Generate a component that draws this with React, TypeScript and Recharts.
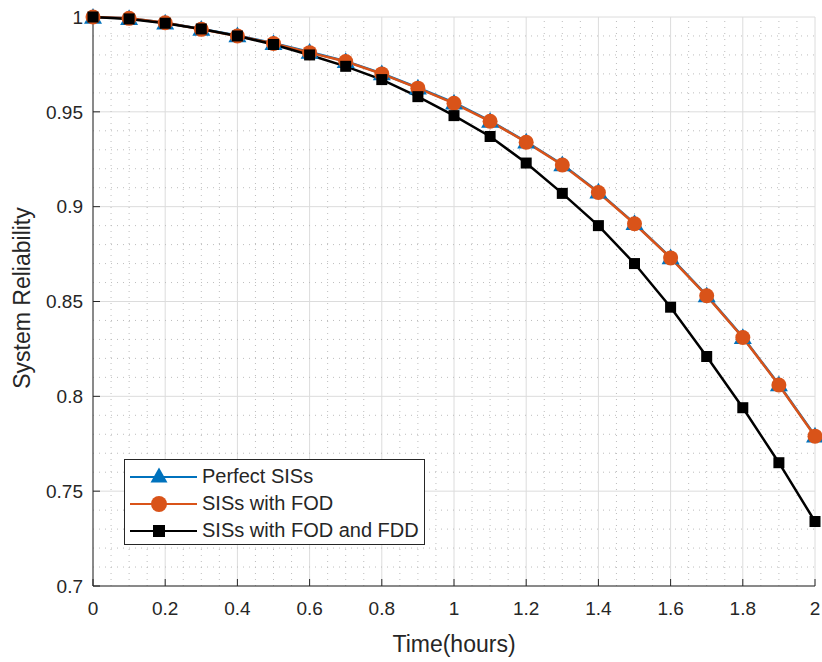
import React from 'react';
import {
  CartesianGrid, Line, LineChart, ReferenceLine, XAxis, YAxis,
} from 'recharts';

const time = [0, 0.1, 0.2, 0.3, 0.4, 0.5, 0.6, 0.7, 0.8, 0.9, 1, 1.1, 1.2, 1.3, 1.4, 1.5, 1.6, 1.7, 1.8, 1.9, 2];
const perfectSIS = [1.0, 0.9993, 0.997, 0.9937, 0.9902, 0.9862, 0.9815, 0.9767, 0.9702, 0.9627, 0.9548, 0.9452, 0.9342, 0.9222, 0.9078, 0.8912, 0.8732, 0.8532, 0.8312, 0.8062, 0.7792];
const withFOD = [1.0, 0.9993, 0.997, 0.9935, 0.99, 0.986, 0.9812, 0.9765, 0.97, 0.9625, 0.9545, 0.945, 0.934, 0.922, 0.9075, 0.891, 0.873, 0.853, 0.831, 0.806, 0.779];
const withFODFDD = [1.0, 0.999, 0.9967, 0.9937, 0.99, 0.9855, 0.98, 0.974, 0.967, 0.958, 0.948, 0.937, 0.923, 0.907, 0.89, 0.87, 0.847, 0.821, 0.794, 0.765, 0.734];

const xTicks = [0, 0.2, 0.4, 0.6, 0.8, 1, 1.2, 1.4, 1.6, 1.8, 2];
const yTicks = [0.7, 0.75, 0.8, 0.85, 0.9, 0.95, 1];

const data = time.map((t, i) => ({
  t, perfect: perfectSIS[i], fod: withFOD[i], fdd: withFODFDD[i],
}));

// minor grid: 0.05 on x, 0.01 on y (skip the major ones)
const xMinor: number[] = [];
for (let i = 1; i < 40; i++) if (i % 4 !== 0) xMinor.push(i * 0.05);
const yMinor: number[] = [];
for (let i = 71; i < 100; i++) if (i % 5 !== 0) yMinor.push(i / 100);

const FONT = '"Liberation Sans", Arial, Helvetica, sans-serif';
const INK = '#262626';
const BLUE = '#0072BD';
const ORANGE = '#D95319';
const TICK = { fontSize: 19, fill: INK, fontFamily: FONT };

const Triangle = ({ cx, cy, s = 9 }: any) => (
  <polygon points={`${cx},${cy - s} ${cx - s},${cy + s * 0.75} ${cx + s},${cy + s * 0.75}`} fill={BLUE} />
);
const Circle = ({ cx, cy, r = 7.5 }: any) => <circle cx={cx} cy={cy} r={r} fill={ORANGE} />;
const Square = ({ cx, cy, s = 5.5 }: any) => <rect x={cx - s} y={cy - s} width={s * 2} height={s * 2} fill="#000" />;

const empty = () => <g />;

function LegendBox() {
  const rows = [
    { name: 'Perfect SISs', color: BLUE, mark: <Triangle cx={34} cy={11} s={8.5} /> },
    { name: 'SISs with FOD', color: ORANGE, mark: <Circle cx={34} cy={12} r={8} /> },
    { name: 'SISs with FOD and FDD', color: '#000', mark: <Square cx={34} cy={12} s={6} /> },
  ];
  return (
    <div style={{
      position: 'absolute', left: 124, top: 459, width: 301, height: 86,
      border: `1px solid ${INK}`, background: '#fff', fontFamily: FONT,
      fontSize: 20, color: INK, boxSizing: 'border-box', paddingTop: 3,
    }}>
      {rows.map((r) => (
        <div key={r.name} style={{ display: 'flex', alignItems: 'center', height: 27 }}>
          <svg width={77} height={24} style={{ flex: 'none' }}>
            <line x1={5} x2={72} y1={12} y2={12} stroke={r.color} strokeWidth={2} />
            {r.mark}
          </svg>
          <span style={{ whiteSpace: 'nowrap' }}>{r.name}</span>
        </div>
      ))}
    </div>
  );
}

export default function App() {
  return (
    <div style={{ position: 'absolute', left: 0, top: 0, width: 822, height: 662, background: '#fff' }}>
      <LineChart width={822} height={662} data={data} margin={{ top: 17, right: 7, bottom: 0, left: 0 }}>
        <CartesianGrid stroke="#dcdcdc" strokeWidth={1} />
        {xMinor.map((v) => (
          <ReferenceLine key={'x' + v} x={v} stroke="#bdbdbd" strokeDasharray="1 5" />
        ))}
        {yMinor.map((v) => (
          <ReferenceLine key={'y' + v} y={v} stroke="#bdbdbd" strokeDasharray="1 5" />
        ))}
        <XAxis
          dataKey="t" type="number" domain={[0, 2]} ticks={xTicks} height={76}
          tick={TICK} tickSize={-7} tickMargin={23} stroke={INK} tickLine={{ stroke: INK }}
          label={() => (
            <text x={454} y={652} textAnchor="middle" fontSize={23} fill={INK} fontFamily={FONT}>Time(hours)</text>
          )}
        />
        <XAxis xAxisId="top" orientation="top" type="number" domain={[0, 2]} ticks={xTicks} height={0}
          tick={empty} tickSize={-7} stroke={INK} />
        <YAxis
          type="number" domain={[0.7, 1]} ticks={yTicks} width={93}
          tick={TICK} tickSize={-7} tickMargin={17} stroke={INK}
          label={() => (
            <text x={22} y={298} transform="rotate(-90 22 298)" textAnchor="middle" dominantBaseline="central"
              fontSize={23} fill={INK} fontFamily={FONT}>System Reliability</text>
          )}
        />
        <YAxis yAxisId="right" orientation="right" type="number" domain={[0.7, 1]} ticks={yTicks} width={0}
          tick={empty} tickSize={-7} stroke={INK} />
        <Line dataKey="perfect" stroke={BLUE} strokeWidth={2.5} isAnimationActive={false}
          dot={(p: any) => <Triangle key={p.index} cx={p.cx} cy={p.cy} />} />
        <Line dataKey="fod" stroke={ORANGE} strokeWidth={2.5} isAnimationActive={false}
          dot={(p: any) => <Circle key={p.index} cx={p.cx} cy={p.cy} />} />
        <Line dataKey="fdd" stroke="#000" strokeWidth={2.5} isAnimationActive={false}
          dot={(p: any) => <Square key={p.index} cx={p.cx} cy={p.cy} />} />
      </LineChart>
      <LegendBox />
    </div>
  );
}
